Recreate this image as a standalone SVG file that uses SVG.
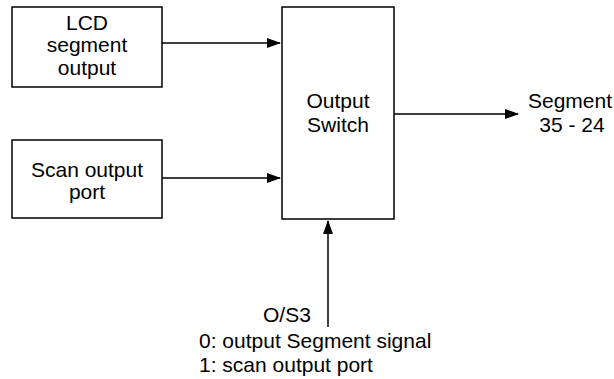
<svg xmlns="http://www.w3.org/2000/svg" width="614" height="379" viewBox="0 0 614 379">
<defs>
<style>
.box{fill:#fff;stroke:#000;stroke-width:1.5}
.ln{stroke:#000;stroke-width:1.5;fill:none}
text{font-family:"Liberation Sans",Arial,sans-serif;font-size:21px;fill:#000}
.c{text-anchor:middle}
</style>
<marker id="ah" markerWidth="14" markerHeight="10" refX="13" refY="5" orient="auto" markerUnits="userSpaceOnUse">
<path d="M0,0 L14,5 L0,10 Z" fill="#000"/>
</marker>
</defs>
<rect width="614" height="379" fill="#fff"/>
<g id="lcd">
<rect class="box" x="12" y="7" width="150" height="80"/>
<text class="c" x="87" y="30">LCD</text>
<text class="c" x="87" y="52">segment</text>
<text class="c" x="87" y="75">output</text>
</g>
<g id="scan">
<rect class="box" x="12" y="140" width="150" height="78"/>
<text class="c" x="87" y="177">Scan output</text>
<text class="c" x="87" y="199">port</text>
</g>
<g id="switch">
<rect class="box" x="282" y="7" width="112" height="212"/>
<text class="c" x="338" y="108">Output</text>
<text class="c" x="338" y="132">Switch</text>
</g>
<g id="segment">
<text class="c" x="570" y="108">Segment</text>
<text class="c" x="572" y="132">35 - 24</text>
</g>
<g id="os3">
<text x="263" y="322">O/S3</text>
<text x="199" y="348">0: output Segment signal</text>
<text x="199" y="372">1: scan output port</text>
</g>
<g id="connectors">
<line class="ln" x1="162" y1="43" x2="280" y2="43" marker-end="url(#ah)"/>
<line class="ln" x1="162" y1="178" x2="280" y2="178" marker-end="url(#ah)"/>
<line class="ln" x1="394" y1="114" x2="518" y2="114" marker-end="url(#ah)"/>
<line class="ln" x1="328" y1="327" x2="328" y2="221" marker-end="url(#ah)"/>
</g>
</svg>
